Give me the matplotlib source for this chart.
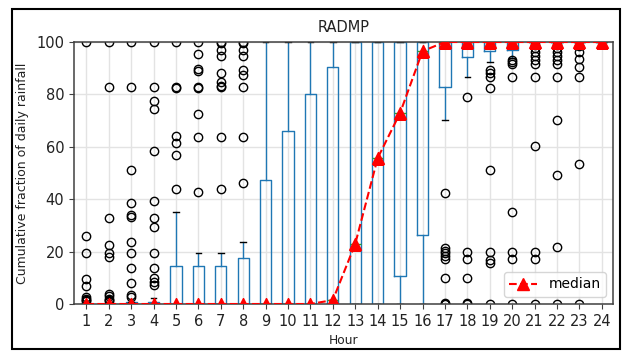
import matplotlib
matplotlib.use("Agg")
import matplotlib.pyplot as plt
from matplotlib.patches import Rectangle
from matplotlib.path import Path

hours = list(range(1, 25))
q1 = [0] * 14 + [10.5, 26.5, 82.8, 94.3, 96.4, 97.0, 100, 100, 100, 100]
q3 = [0, 0, 0.7, 0.7, 14.5, 14.5, 14.5, 17.7, 47.2, 66.2, 80.0, 90.5] + [100] * 12
medians = [0] * 11 + [1.5, 23.0, 55.7, 72.9, 96.5] + [100] * 8
whislo = [0] * 16 + [70.4, 86.8, 92.2, 93.8, 100, 100, 100, 100]
whishi = [0, 0, 0.7, 2.2, 35.0, 19.6, 19.6, 23.8] + [100] * 16
fliers = [
    [100, 26, 19.6, 9.4, 7.0, 2.5, 2.0, 1.5, 1.0],
    [100, 82.9, 33, 22.6, 19.6, 18.1, 4, 3, 2, 1.5, 1],
    [100, 82.9, 51, 38.5, 34, 33.1, 23.8, 19.6, 13.6, 8, 3.4, 2.8],
    [100, 82.9, 77.3, 74.3, 58.4, 39.5, 33, 29.3, 19.6, 13.6, 9.8, 8.5, 7.3],
    [100, 82.9, 82.5, 64.2, 61.5, 57, 44],
    [100, 95.6, 89.6, 88.9, 82.9, 82.5, 72.7, 63.9, 42.7],
    [100, 99.5, 96.9, 94.6, 88.2, 84.6, 83.2, 82.9, 63.9, 44],
    [100, 99.5, 96.9, 94.6, 89.5, 87.5, 82.9, 63.9, 46],
    [], [], [], [], [], [], [], [],
    [42.3, 21.3, 20.4, 19.4, 18.4, 17.1, 10.1, 0, 0, 0.3],
    [79, 19.8, 17.1, 10.1, 0, 0.3],
    [89.2, 88, 86.7, 82.3, 51, 19.8, 16.9, 15.8, 0],
    [93, 92.2, 91.5, 86.7, 35.3, 19.8, 17.1, 0],
    [99, 97.7, 96.1, 94.6, 93, 91.5, 86.7, 60.2, 19.8, 17.1, 0],
    [99, 97.7, 96.1, 94.6, 93, 91.5, 86.7, 70.1, 49.1, 21.9, 0],
    [98.4, 96.1, 93.4, 90.5, 86.7, 53.3, 0],
    [],
]
title = "RADMP"
xlabel = "Hour"
ylabel = "Cumulative fraction of daily rainfall"

fig = plt.figure(figsize=(6.25, 3.55), dpi=100)
ax = fig.add_axes([74 / 625, 1 - 304 / 355, (613 - 74) / 625, (304 - 42) / 355])

stats = []
for i in range(len(hours)):
    stats.append(dict(q1=q1[i], q3=q3[i], med=medians[i], whislo=whislo[i],
                      whishi=whishi[i], fliers=fliers[i], label=str(hours[i])))

blue = "#1f77b4"
art = ax.bxp(stats, positions=hours, widths=0.5,
             boxprops=dict(color=blue, linewidth=1.0),
             whiskerprops=dict(color=blue, linewidth=1.0),
             capprops=dict(color="black", linewidth=1.0),
             medianprops=dict(color="#2ca02c", linewidth=1.0),
             flierprops=dict(marker="o", markerfacecolor="none", markeredgecolor="black",
                             markersize=6, linestyle="none"))

med_line, = ax.plot(hours, medians, "r--", marker="^", markersize=8, linewidth=1.5,
                    label="median", zorder=5)

clip = Path([(0, 0), (1, 0), (1, 1), (0, 1), (0, 0)], closed=True)
for a in art["fliers"] + [med_line]:
    a.set_clip_path(clip, ax.transAxes)

ax.set_xlim(0.45, 24.5)
ax.set_ylim(0, 100)
ax.set_xticks(hours)
ax.set_xticklabels([str(h) for h in hours])
ax.set_yticks([0, 20, 40, 60, 80, 100])
ax.grid(True, color="#e3e3e3", linewidth=1.0)
ax.set_axisbelow(True)
for s in ax.spines.values():
    s.set_color("#404040")
    s.set_linewidth(1.1)
ax.tick_params(axis="both", labelsize=10.5, colors="#404040", labelcolor="#222222")

ax.set_title(title, fontsize=10.5, pad=7.5, color="#222222")
ax.set_xlabel(xlabel, fontsize=8.8, color="#222222")
ax.set_ylabel(ylabel, fontsize=9, labelpad=5, color="#222222")
ax.legend(loc="lower right", fontsize=10)

fig.patches.append(Rectangle((12 / 625, 1 - 349 / 355), (620 - 12) / 625, (349 - 9) / 355,
                             transform=fig.transFigure, fill=False,
                             edgecolor="black", linewidth=1.5))

fig.savefig("out.png", dpi=100)
